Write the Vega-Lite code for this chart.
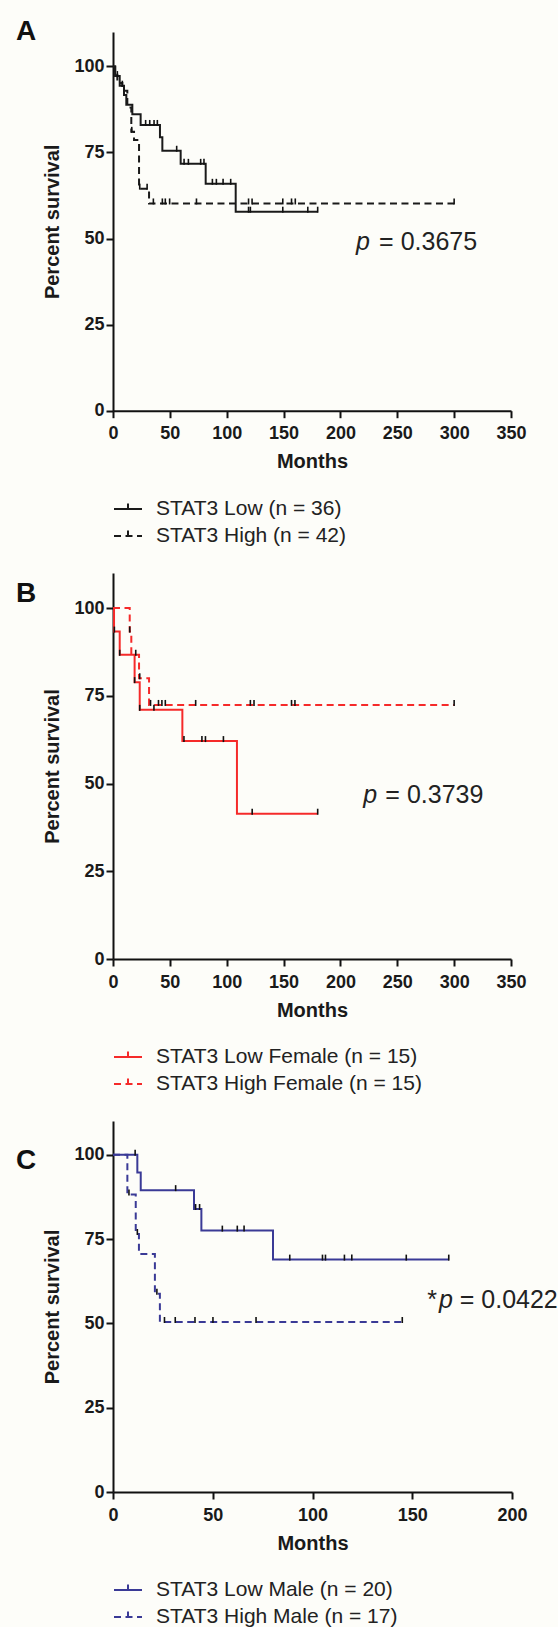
{
  "$schema": "https://vega.github.io/schema/vega-lite/v6.json",
  "background": "#fdfdf9",
  "padding": {"left": 16, "top": 18, "right": 0, "bottom": 0},
  "config": {
    "view": {"stroke": null},
    "font": "Liberation Sans",
    "axis": {"domainColor": "#111", "domainWidth": 2, "tickColor": "#111", "tickWidth": 2, "tickSize": 7, "grid": false,
      "labelFont": "Liberation Sans", "labelFontWeight": "bold", "labelFontSize": 18, "labelColor": "#1a1a1a",
      "titleFont": "Liberation Sans", "titleFontWeight": "bold", "titleFontSize": 20, "titleColor": "#1a1a1a"},
    "axisY": {"labelPadding": 2, "titlePadding": 11},
    "axisX": {"labelPadding": 7, "titlePadding": 9, "labelFlush": false},
    "legend": {"orient": "bottom", "direction": "vertical", "offset": 22, "padding": 0, "title": null,
      "labelFont": "Liberation Sans", "labelFontSize": 21, "labelColor": "#222", "labelLimit": 500,
      "symbolType": "M-1,0H1M0,0V-0.4", "symbolSize": 784, "symbolStrokeWidth": 2, "symbolFillColor": "transparent",
      "labelOffset": 13, "rowPadding": 2},
    "title": {"font": "Liberation Sans", "fontSize": 28, "fontWeight": "bold", "color": "#111", "anchor": "start", "frame": "group", "offset": 0, "baseline": "alphabetic"}
  },
  "datasets": {
    "A_km": [
      {"group": "STAT3 Low (n = 36)", "month": 0, "surv": 100},
      {"group": "STAT3 Low (n = 36)", "month": 1.8, "surv": 97.2},
      {"group": "STAT3 Low (n = 36)", "month": 5.9, "surv": 94.4},
      {"group": "STAT3 Low (n = 36)", "month": 9.7, "surv": 91.7},
      {"group": "STAT3 Low (n = 36)", "month": 11.7, "surv": 88.9},
      {"group": "STAT3 Low (n = 36)", "month": 17, "surv": 86.1},
      {"group": "STAT3 Low (n = 36)", "month": 24.3, "surv": 83.0},
      {"group": "STAT3 Low (n = 36)", "month": 41.3, "surv": 79.4},
      {"group": "STAT3 Low (n = 36)", "month": 43.4, "surv": 75.5},
      {"group": "STAT3 Low (n = 36)", "month": 59.5, "surv": 71.7},
      {"group": "STAT3 Low (n = 36)", "month": 81.5, "surv": 65.9},
      {"group": "STAT3 Low (n = 36)", "month": 107.9, "surv": 57.8},
      {"group": "STAT3 Low (n = 36)", "month": 180, "surv": 57.8},
      {"group": "STAT3 High (n = 42)", "month": 0, "surv": 100},
      {"group": "STAT3 High (n = 42)", "month": 2, "surv": 97.6},
      {"group": "STAT3 High (n = 42)", "month": 3.8, "surv": 95.2},
      {"group": "STAT3 High (n = 42)", "month": 8.2, "surv": 92.9},
      {"group": "STAT3 High (n = 42)", "month": 12.6, "surv": 88.1},
      {"group": "STAT3 High (n = 42)", "month": 16.1, "surv": 81.0},
      {"group": "STAT3 High (n = 42)", "month": 18.5, "surv": 78.6},
      {"group": "STAT3 High (n = 42)", "month": 22.9, "surv": 64.5},
      {"group": "STAT3 High (n = 42)", "month": 31.7, "surv": 60.2},
      {"group": "STAT3 High (n = 42)", "month": 300, "surv": 60.2}
    ],
    "A_cens": [
      {"month": 3.8, "surv": 97.2}, {"month": 8.2, "surv": 94.4}, {"month": 28.7, "surv": 83.0}, {"month": 32.3, "surv": 83.0},
      {"month": 36.1, "surv": 83.0}, {"month": 39, "surv": 83.0}, {"month": 56, "surv": 75.5}, {"month": 62.5, "surv": 71.7},
      {"month": 66.3, "surv": 71.7}, {"month": 77.1, "surv": 71.7}, {"month": 80, "surv": 71.7}, {"month": 87.4, "surv": 65.9},
      {"month": 90.9, "surv": 65.9}, {"month": 96.8, "surv": 65.9}, {"month": 103.5, "surv": 65.9}, {"month": 119.2, "surv": 57.8},
      {"month": 120.8, "surv": 57.8}, {"month": 149.3, "surv": 57.8}, {"month": 171.3, "surv": 57.8}, {"month": 180, "surv": 57.8},
      {"month": 16.5, "surv": 81.0}, {"month": 23.5, "surv": 64.5}, {"month": 30, "surv": 64.5}, {"month": 35.5, "surv": 60.2},
      {"month": 43.4, "surv": 60.2}, {"month": 46, "surv": 60.2}, {"month": 49.8, "surv": 60.2}, {"month": 73.4, "surv": 60.2},
      {"month": 119.2, "surv": 60.2}, {"month": 122.3, "surv": 60.2}, {"month": 149.3, "surv": 60.2}, {"month": 157, "surv": 60.2},
      {"month": 160.3, "surv": 60.2}, {"month": 300, "surv": 60.2}
    ],
    "B_km": [
      {"group": "STAT3 Low Female (n = 15)", "month": 0, "surv": 100},
      {"group": "STAT3 Low Female (n = 15)", "month": 0.9, "surv": 93.3},
      {"group": "STAT3 Low Female (n = 15)", "month": 5.9, "surv": 86.7},
      {"group": "STAT3 Low Female (n = 15)", "month": 19, "surv": 78.9},
      {"group": "STAT3 Low Female (n = 15)", "month": 23.5, "surv": 71.0},
      {"group": "STAT3 Low Female (n = 15)", "month": 61, "surv": 62.1},
      {"group": "STAT3 Low Female (n = 15)", "month": 109, "surv": 41.4},
      {"group": "STAT3 Low Female (n = 15)", "month": 180, "surv": 41.4},
      {"group": "STAT3 High Female (n = 15)", "month": 0, "surv": 100},
      {"group": "STAT3 High Female (n = 15)", "month": 14.7, "surv": 93.3},
      {"group": "STAT3 High Female (n = 15)", "month": 16.1, "surv": 86.7},
      {"group": "STAT3 High Female (n = 15)", "month": 22.9, "surv": 80.0},
      {"group": "STAT3 High Female (n = 15)", "month": 31.7, "surv": 72.4},
      {"group": "STAT3 High Female (n = 15)", "month": 300, "surv": 72.4}
    ],
    "B_cens": [
      {"month": 1.2, "surv": 93.3}, {"month": 5.9, "surv": 86.7}, {"month": 19, "surv": 78.9}, {"month": 23.5, "surv": 71.0},
      {"month": 36, "surv": 71.0}, {"month": 62.4, "surv": 62.1}, {"month": 78.2, "surv": 62.1}, {"month": 81.3, "surv": 62.1},
      {"month": 97.1, "surv": 62.1}, {"month": 122.4, "surv": 41.4}, {"month": 180, "surv": 41.4},
      {"month": 14.7, "surv": 93.3}, {"month": 20, "surv": 86.7}, {"month": 23.5, "surv": 80.0}, {"month": 33, "surv": 72.4},
      {"month": 40, "surv": 72.4}, {"month": 43, "surv": 72.4}, {"month": 46, "surv": 72.4}, {"month": 72.7, "surv": 72.4},
      {"month": 120.8, "surv": 72.4}, {"month": 124, "surv": 72.4}, {"month": 157, "surv": 72.4}, {"month": 160, "surv": 72.4},
      {"month": 300, "surv": 72.4}
    ],
    "C_km": [
      {"group": "STAT3 Low Male (n = 20)", "month": 0, "surv": 100},
      {"group": "STAT3 Low Male (n = 20)", "month": 12.2, "surv": 94.7},
      {"group": "STAT3 Low Male (n = 20)", "month": 13.9, "surv": 89.5},
      {"group": "STAT3 Low Male (n = 20)", "month": 40.6, "surv": 83.9},
      {"group": "STAT3 Low Male (n = 20)", "month": 44.3, "surv": 77.5},
      {"group": "STAT3 Low Male (n = 20)", "month": 80.2, "surv": 68.9},
      {"group": "STAT3 Low Male (n = 20)", "month": 168.3, "surv": 68.9},
      {"group": "STAT3 High Male (n = 17)", "month": 0, "surv": 100},
      {"group": "STAT3 High Male (n = 17)", "month": 7.2, "surv": 88.2},
      {"group": "STAT3 High Male (n = 17)", "month": 11.4, "surv": 76.5},
      {"group": "STAT3 High Male (n = 17)", "month": 13, "surv": 70.6},
      {"group": "STAT3 High Male (n = 17)", "month": 21, "surv": 58.8},
      {"group": "STAT3 High Male (n = 17)", "month": 23.5, "surv": 50.4},
      {"group": "STAT3 High Male (n = 17)", "month": 145, "surv": 50.4}
    ],
    "C_cens": [
      {"month": 11.1, "surv": 100}, {"month": 31.4, "surv": 89.5}, {"month": 41.4, "surv": 83.9}, {"month": 43.4, "surv": 83.9},
      {"month": 54.8, "surv": 77.5}, {"month": 62.3, "surv": 77.5}, {"month": 65.7, "surv": 77.5}, {"month": 88.6, "surv": 68.9},
      {"month": 105, "surv": 68.9}, {"month": 106.5, "surv": 68.9}, {"month": 116, "surv": 68.9}, {"month": 119.7, "surv": 68.9},
      {"month": 147, "surv": 68.9}, {"month": 168.3, "surv": 68.9},
      {"month": 8, "surv": 88.2}, {"month": 12.2, "surv": 76.5}, {"month": 22, "surv": 58.8}, {"month": 25.8, "surv": 50.4},
      {"month": 31.2, "surv": 50.4}, {"month": 41.1, "surv": 50.4}, {"month": 50.1, "surv": 50.4}, {"month": 71.7, "surv": 50.4},
      {"month": 145, "surv": 50.4}
    ],
    "notes": [
      {"panel": "A", "style": "italic", "month": 213.7, "surv": 49.1, "label": "p"},
      {"panel": "A", "style": "normal", "month": 234, "surv": 49.1, "label": "= 0.3675"},
      {"panel": "B", "style": "italic", "month": 220, "surv": 46.7, "label": "p"},
      {"panel": "B", "style": "normal", "month": 239.5, "surv": 46.7, "label": "= 0.3739"},
      {"panel": "C", "style": "normal", "month": 157.5, "surv": 57, "label": "*"},
      {"panel": "C", "style": "italic", "month": 163.4, "surv": 57, "label": "p"},
      {"panel": "C", "style": "normal", "month": 173.8, "surv": 57, "label": "= 0.0422"}
    ]
  },
  "vconcat": [
    {
      "width": 398, "height": 378.7,
      "title": {"text": "A", "dx": -97, "dy": 18},
      "layer": [
        {
          "data": {"name": "A_km"},
          "mark": {"type": "line", "interpolate": "step-after", "strokeWidth": 2},
          "encoding": {
            "x": {"field": "month", "type": "quantitative", "title": "Months", "scale": {"domain": [0, 350], "nice": false}, "axis": {"values": [0, 50, 100, 150, 200, 250, 300, 350]}},
            "y": {"field": "surv", "type": "quantitative", "title": "Percent survival", "scale": {"domain": [0, 110], "nice": false}, "axis": {"values": [0, 25, 50, 75, 100]}},
            "color": {"field": "group", "type": "nominal", "scale": {"domain": ["STAT3 Low (n = 36)", "STAT3 High (n = 42)"], "range": ["#1a1a1a", "#1a1a1a"]}, "legend": {"title": null}},
            "strokeDash": {"field": "group", "type": "nominal", "scale": {"domain": ["STAT3 Low (n = 36)", "STAT3 High (n = 42)"], "range": [[1, 0], [7, 4.5]]}, "legend": {"title": null}}
          }
        },
        {
          "data": {"name": "A_cens"},
          "mark": {"type": "point", "shape": "M0,0.2V-1", "size": 100, "filled": false, "stroke": "#111", "strokeWidth": 1.6, "opacity": 1},
          "encoding": {"x": {"field": "month", "type": "quantitative"}, "y": {"field": "surv", "type": "quantitative"}}
        },
        {
          "data": {"name": "notes"},
          "transform": [{"filter": "datum.panel === 'A' && datum.style === 'italic'"}],
          "mark": {"type": "text", "font": "Liberation Sans", "fontSize": 25, "fontStyle": "italic", "align": "left", "baseline": "middle", "color": "#222"},
          "encoding": {"x": {"field": "month", "type": "quantitative"}, "y": {"field": "surv", "type": "quantitative"}, "text": {"field": "label"}}
        },
        {
          "data": {"name": "notes"},
          "transform": [{"filter": "datum.panel === 'A' && datum.style === 'normal'"}],
          "mark": {"type": "text", "font": "Liberation Sans", "fontSize": 25, "align": "left", "baseline": "middle", "color": "#222"},
          "encoding": {"x": {"field": "month", "type": "quantitative"}, "y": {"field": "surv", "type": "quantitative"}, "text": {"field": "label"}}
        }
      ]
    },
    {
      "width": 398, "height": 386,
      "title": {"text": "B", "dx": -97, "dy": 39},
      "layer": [
        {
          "data": {"name": "B_km"},
          "mark": {"type": "line", "interpolate": "step-after", "strokeWidth": 2},
          "encoding": {
            "x": {"field": "month", "type": "quantitative", "title": "Months", "scale": {"domain": [0, 350], "nice": false}, "axis": {"values": [0, 50, 100, 150, 200, 250, 300, 350]}},
            "y": {"field": "surv", "type": "quantitative", "title": "Percent survival", "scale": {"domain": [0, 110], "nice": false}, "axis": {"values": [0, 25, 50, 75, 100]}},
            "color": {"field": "group", "type": "nominal", "scale": {"domain": ["STAT3 Low Female (n = 15)", "STAT3 High Female (n = 15)"], "range": ["#f52a2a", "#f52a2a"]}, "legend": {"title": null}},
            "strokeDash": {"field": "group", "type": "nominal", "scale": {"domain": ["STAT3 Low Female (n = 15)", "STAT3 High Female (n = 15)"], "range": [[1, 0], [7, 4.5]]}, "legend": {"title": null}}
          }
        },
        {
          "data": {"name": "B_cens"},
          "mark": {"type": "point", "shape": "M0,0.2V-1", "size": 100, "filled": false, "stroke": "#111", "strokeWidth": 1.6, "opacity": 1},
          "encoding": {"x": {"field": "month", "type": "quantitative"}, "y": {"field": "surv", "type": "quantitative"}}
        },
        {
          "data": {"name": "notes"},
          "transform": [{"filter": "datum.panel === 'B' && datum.style === 'italic'"}],
          "mark": {"type": "text", "font": "Liberation Sans", "fontSize": 25, "fontStyle": "italic", "align": "left", "baseline": "middle", "color": "#222"},
          "encoding": {"x": {"field": "month", "type": "quantitative"}, "y": {"field": "surv", "type": "quantitative"}, "text": {"field": "label"}}
        },
        {
          "data": {"name": "notes"},
          "transform": [{"filter": "datum.panel === 'B' && datum.style === 'normal'"}],
          "mark": {"type": "text", "font": "Liberation Sans", "fontSize": 25, "align": "left", "baseline": "middle", "color": "#222"},
          "encoding": {"x": {"field": "month", "type": "quantitative"}, "y": {"field": "surv", "type": "quantitative"}, "text": {"field": "label"}}
        }
      ]
    },
    {
      "width": 399, "height": 371,
      "title": {"text": "C", "dx": -97, "dy": 58},
      "layer": [
        {
          "data": {"name": "C_km"},
          "mark": {"type": "line", "interpolate": "step-after", "strokeWidth": 2},
          "encoding": {
            "x": {"field": "month", "type": "quantitative", "title": "Months", "scale": {"domain": [0, 200], "nice": false}, "axis": {"values": [0, 50, 100, 150, 200]}},
            "y": {"field": "surv", "type": "quantitative", "title": "Percent survival", "scale": {"domain": [0, 110], "nice": false}, "axis": {"values": [0, 25, 50, 75, 100]}},
            "color": {"field": "group", "type": "nominal", "scale": {"domain": ["STAT3 Low Male (n = 20)", "STAT3 High Male (n = 17)"], "range": ["#3a3a96", "#3a3a96"]}, "legend": {"title": null}},
            "strokeDash": {"field": "group", "type": "nominal", "scale": {"domain": ["STAT3 Low Male (n = 20)", "STAT3 High Male (n = 17)"], "range": [[1, 0], [7, 4.5]]}, "legend": {"title": null}}
          }
        },
        {
          "data": {"name": "C_cens"},
          "mark": {"type": "point", "shape": "M0,0.2V-1", "size": 100, "filled": false, "stroke": "#111", "strokeWidth": 1.6, "opacity": 1},
          "encoding": {"x": {"field": "month", "type": "quantitative"}, "y": {"field": "surv", "type": "quantitative"}}
        },
        {
          "data": {"name": "notes"},
          "transform": [{"filter": "datum.panel === 'C' && datum.style === 'italic'"}],
          "mark": {"type": "text", "font": "Liberation Sans", "fontSize": 25, "fontStyle": "italic", "align": "left", "baseline": "middle", "color": "#222"},
          "encoding": {"x": {"field": "month", "type": "quantitative"}, "y": {"field": "surv", "type": "quantitative"}, "text": {"field": "label"}}
        },
        {
          "data": {"name": "notes"},
          "transform": [{"filter": "datum.panel === 'C' && datum.style === 'normal'"}],
          "mark": {"type": "text", "font": "Liberation Sans", "fontSize": 25, "align": "left", "baseline": "middle", "color": "#222"},
          "encoding": {"x": {"field": "month", "type": "quantitative"}, "y": {"field": "surv", "type": "quantitative"}, "text": {"field": "label"}}
        }
      ]
    }
  ],
  "spacing": 162,
  "bounds": "flush",
  "resolve": {"scale": {"x": "independent", "y": "independent", "color": "independent", "strokeDash": "independent"}, "legend": {"color": "independent", "strokeDash": "independent"}}
}
